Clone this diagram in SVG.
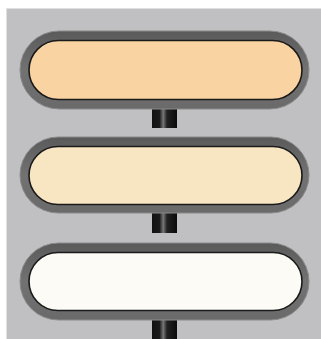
<svg xmlns="http://www.w3.org/2000/svg" width="321" height="339" viewBox="0 0 321 339">
<defs>
<linearGradient id="bar" x1="0" y1="0" x2="1" y2="0">
<stop offset="0" stop-color="#111"/>
<stop offset="0.3" stop-color="#1a1a1a"/>
<stop offset="0.45" stop-color="#777"/>
<stop offset="0.6" stop-color="#222"/>
<stop offset="1" stop-color="#0a0a0a"/>
</linearGradient>
<linearGradient id="ring" x1="0" y1="0" x2="0" y2="1">
<stop offset="0" stop-color="#5a5a5a"/>
<stop offset="0.5" stop-color="#727272"/>
<stop offset="1" stop-color="#6a6a6a"/>
</linearGradient>
</defs>
<style>
.ring{fill:url(#ring);stroke:#8a8a8a;stroke-width:1}
.inner{stroke:#1a1a1a;stroke-width:1.6}
.bar{fill:url(#bar)}
</style>
<rect x="0" y="0" width="321" height="339" fill="#ffffff"/>
<rect x="6.5" y="8.5" width="316" height="332" fill="#c0c0c2" stroke="#e0e0e0" stroke-width="1"/>
<g id="connectors">
<rect class="bar" x="152" y="108" width="25" height="20"/>
<rect class="bar" x="152" y="212" width="25" height="21"/>
<rect class="bar" x="152" y="318" width="25" height="21"/>
</g>
<g id="pill1">
<rect class="ring" x="20" y="31" width="289" height="78" rx="39"/>
<rect class="inner" x="29" y="40.5" width="273" height="59" rx="29.5" fill="#f9d4a2"/>
</g>
<g id="pill2">
<rect class="ring" x="20" y="137" width="289" height="76" rx="38"/>
<rect class="inner" x="29" y="146.5" width="273" height="58" rx="29" fill="#f8e5c2"/>
</g>
<g id="pill3">
<rect class="ring" x="20" y="243" width="289" height="77" rx="38.5"/>
<rect class="inner" x="29" y="252.5" width="273" height="58" rx="29" fill="#fdfbf6"/>
</g>
</svg>
